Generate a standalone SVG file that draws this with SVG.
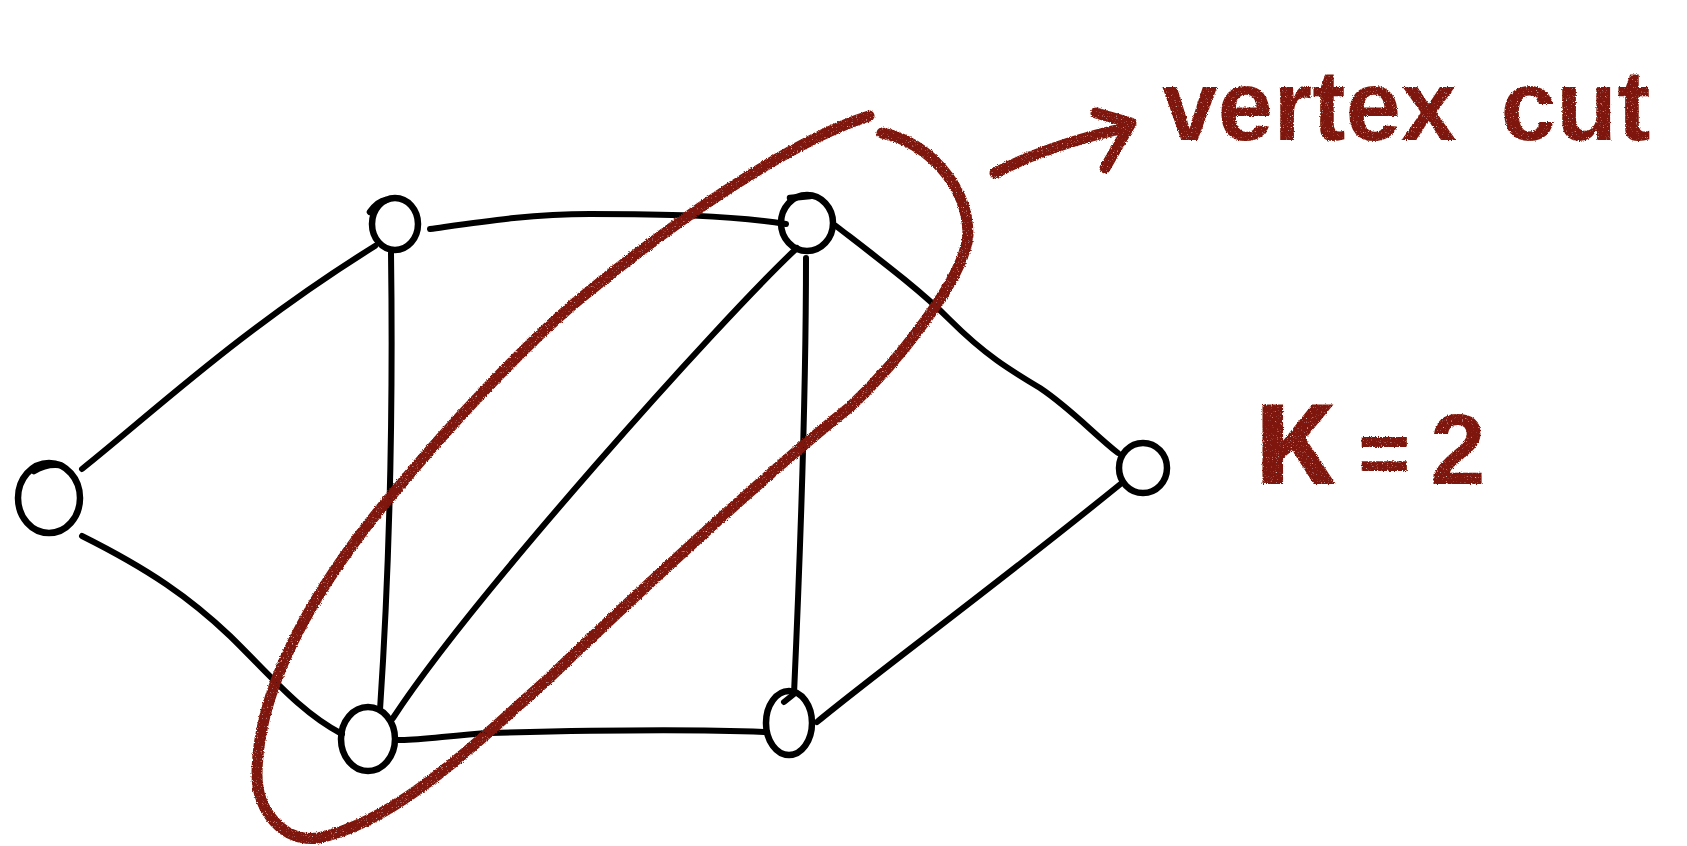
<svg xmlns="http://www.w3.org/2000/svg" width="1687" height="846" viewBox="0 0 1687 846">
<style>
.node{fill:none;stroke:#000;stroke-width:6.5;stroke-linecap:round;stroke-linejoin:round}
.edge{fill:none;stroke:#000;stroke-width:6;stroke-linecap:round;stroke-linejoin:round}
.red{fill:none;stroke:#7e1608;stroke-width:11;stroke-linecap:round;stroke-linejoin:round}
.lbl{fill:#7e1608;font-family:"Liberation Sans",Arial,sans-serif;font-weight:bold}
</style>
<defs>
<filter id="chalk" x="-5%" y="-5%" width="110%" height="110%">
<feTurbulence type="fractalNoise" baseFrequency="0.8" numOctaves="2" seed="4" result="n"/>
<feDisplacementMap in="SourceGraphic" in2="n" scale="3" xChannelSelector="R" yChannelSelector="G" result="d"/>
<feColorMatrix in="n" type="matrix" values="0 0 0 0 0  0 0 0 0 0  0 0 0 0 0  0 0 0 -3 2.9" result="a"/>
<feComposite in="d" in2="a" operator="in"/>
</filter>
</defs>
<rect width="1687" height="846" fill="#fff"/>
<g id="connectors">
<path class="edge" d="M82,469 C150,415 240,330 375,246"/>
<path class="edge" d="M82,536 C150,570 190,598 230,636 C270,675 300,712 342,734"/>
<path class="edge" d="M430,229 C480,222 530,214 590,214 C660,214 730,215 786,224"/>
<path class="edge" d="M391,253 C393,400 390,560 380,710"/>
<path class="edge" d="M797,248 C720,320 470,600 393,718"/>
<path class="edge" d="M806,258 C806,400 800,560 794,694 L784,702"/>
<path class="edge" d="M836,226 C880,260 920,290 950,320 C985,355 1010,370 1040,388 C1070,408 1095,435 1118,453"/>
<path class="edge" d="M397,740 C420,741 450,735 490,733 C600,730 690,729 765,732"/>
<path class="edge" d="M817,722 C880,670 990,590 1123,482"/>
</g>
<g id="node-a"><ellipse class="node" cx="49" cy="498" rx="31" ry="35"/><path class="node" d="M34,471 C42,466 52,464 60,465"/></g>
<g id="node-b"><ellipse class="node" cx="395" cy="224" rx="23" ry="26"/><path class="node" d="M370,212 C375,205 380,201 386,200"/></g>
<g id="node-c"><ellipse class="node" cx="807" cy="223" rx="26" ry="28"/><path class="node" d="M790,198 L810,196"/></g>
<g id="node-d"><ellipse class="node" cx="1143" cy="468" rx="24" ry="25"/></g>
<g id="node-e"><ellipse class="node" cx="368" cy="739" rx="27" ry="32"/></g>
<g id="node-f"><ellipse class="node" cx="789" cy="723" rx="23" ry="32"/></g>
<g id="vertex-cut" filter="url(#chalk)">
<path class="red" d="M882,133 C927,142 968,185 968,235 C964,280 894,366 850,407 C770,470 630,600 547,680 C480,739 398,822 318,838 C283,843 257,810 257,775 C257,675 333,565 391,496 C442,434 525,343 587,293 C664,230 784,143 869,116"/>
<path class="red" d="M995,173 C1030,155 1070,140 1125,128"/>
<path class="red" d="M1096,113 L1131,123 L1105,168"/>
<text class="lbl" x="1162" y="140" font-size="100" word-spacing="16">vertex cut</text>
<text class="lbl" y="484"><tspan x="1252" font-size="150">κ</tspan><tspan x="1358" font-size="90">=</tspan><tspan x="1430" font-size="100">2</tspan></text>
</g>
</svg>
